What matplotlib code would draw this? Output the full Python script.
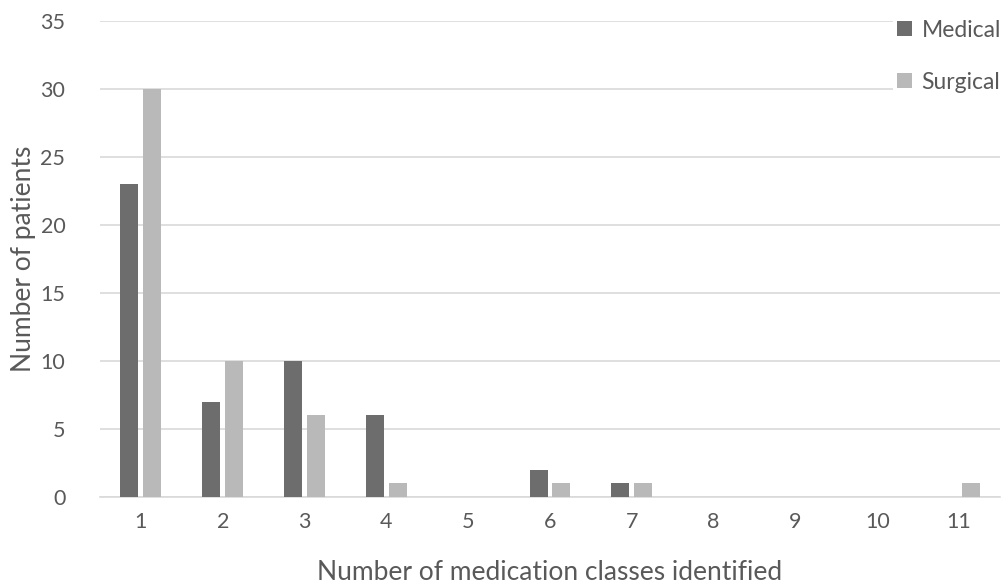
import matplotlib.pyplot as plt
import numpy as np

plt.rcParams['font.family'] = ['Lato', 'DejaVu Sans']

classes = ['1', '2', '3', '4', '5', '6', '7', '8', '9', '10', '11']
medical = [23, 7, 10, 6, 0, 2, 1, 0, 0, 0, 0]
surgical = [30, 10, 6, 1, 0, 1, 1, 0, 0, 0, 1]

text_col = '#595959'
fig = plt.figure(figsize=(10.01, 5.86), dpi=100)
ax = fig.add_axes([100 / 1001, 1 - 497 / 586, 900 / 1001, 476 / 586])

x = np.arange(len(classes))
w = 0.22
ax.bar(x - 0.14, medical, w, color='#6d6d6d', label='Medical', zorder=3)
ax.bar(x + 0.14, surgical, w, color='#b9b9b9', label='Surgical', zorder=3)

ax.set_xlim(-0.5, len(classes) - 0.5)
ax.set_ylim(0, 35)
ax.set_yticks(range(0, 36, 5))
ax.set_xticks(x)
ax.set_xticklabels(classes)
ax.yaxis.grid(True, color='#d9d9d9', linewidth=1.2, zorder=0)
ax.set_axisbelow(True)
for side in ['top', 'right', 'left']:
    ax.spines[side].set_visible(False)
ax.spines['bottom'].set_color('#d9d9d9')
ax.spines['bottom'].set_linewidth(1.2)
ax.tick_params(axis='both', length=0, colors=text_col, labelsize=15.5)
ax.tick_params(axis='x', pad=11)
ax.tick_params(axis='y', pad=25)

ax.set_xlabel('Number of medication classes identified', fontsize=19, color=text_col, labelpad=20)
ax.set_ylabel('Number of patients', fontsize=19, color=text_col, labelpad=3)

leg = ax.legend(loc='upper right', bbox_to_anchor=(1.006, 1.012), frameon=True, fontsize=16.5,
                labelspacing=1.35, handlelength=0.65, handleheight=0.65, handletextpad=0.4,
                borderpad=0.2, borderaxespad=0.0, fancybox=False)
leg.get_frame().set_facecolor('white')
leg.get_frame().set_edgecolor('none')
leg.get_frame().set_alpha(1)
for t in leg.get_texts():
    t.set_color(text_col)

fig.savefig('out.png', dpi=100)
